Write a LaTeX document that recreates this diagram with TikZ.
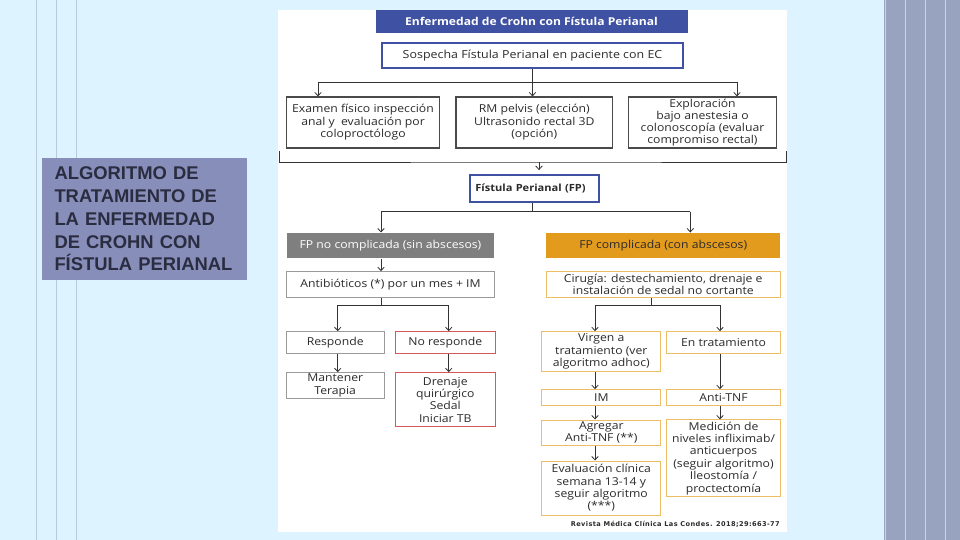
\documentclass[tikz,border=0pt]{standalone}
\usepackage{fontspec}
\setmainfont[FakeStretch=1.12]{Open Sans}
\newfontfamily\labelfont{Liberation Sans}
\newfontfamily\citefont[LetterSpace=6]{DejaVu Sans}
\usetikzlibrary{arrows.meta}
\definecolor{bgblue}{HTML}{DDF3FF}
\definecolor{thinline}{HTML}{B9C9DD}
\definecolor{stripe}{HTML}{98A3BF}
\definecolor{stripelight}{HTML}{C9D3EA}
\definecolor{labelfill}{HTML}{888EBA}
\definecolor{labeltext}{HTML}{2A2C40}
\definecolor{titleblue}{HTML}{3F51A2}
\definecolor{txtgray}{HTML}{2B2B2B}
\definecolor{lngray}{HTML}{333333}
\definecolor{topgray}{HTML}{4A4A4A}
\definecolor{softgray}{HTML}{9A9A9A}
\definecolor{fillgray}{HTML}{7F7F80}
\definecolor{fillorange}{HTML}{E39B1E}
\definecolor{lineorange}{HTML}{EDBD66}
\definecolor{linered}{HTML}{D2585E}
\tikzset{
	flowbox/.style={draw=#1, fill=white, line width=1pt, inner sep=0pt, align=center, text=txtgray, font=\fontsize{10.9}{12.4}\selectfont},
	conn/.style={line width=0.8pt, draw=lngray},
	arr/.style={conn, -{Straight Barb[length=3.5pt,width=6.5pt]}},
}

\begin{document}
\begin{tikzpicture}[x=1pt, y=-1pt]
	%%%%% START %%%%%
	\useasboundingbox (0,0) rectangle (960,540);
	\fill[bgblue] (0,0) rectangle (960,540);
	\foreach \x in {36,56,76} \draw[line width=0.8pt, thinline] (\x,0) -- (\x,540);
	\fill[stripe] (884,0) rectangle (960,540);
	\foreach \x in {885,905,925,945} \draw[line width=1pt, stripelight] (\x,0) -- (\x,540);
	
	% left label
	\node[fill=labelfill, text=labeltext, minimum width=205pt, minimum height=122pt, text width=180pt, inner xsep=12.5pt, align=left,
		font=\labelfont\bfseries\fontsize{18.4}{22.7}\selectfont] (label) at (144.5,219)
		{ALGORITMO DE\\TRATAMIENTO DE\\LA ENFERMEDAD\\DE CROHN CON\\FÍSTULA PERIANAL};
	
	% panel
	\fill[white] (278,10) rectangle (787,532);
	
	\node[fill=titleblue, text=white, minimum width=312pt, minimum height=23pt, inner sep=0pt,
		font=\bfseries\fontsize{10.8}{12}\selectfont] (title) at (531.5,21.4) {Enfermedad de Crohn con Fístula Perianal};
	\node[flowbox=titleblue, line width=1.8pt, minimum width=301pt, minimum height=25pt, font=\fontsize{11.1}{13}\selectfont] (sosp) at (532.5,55.5) {Sospecha Fístula Perianal en paciente con EC};
	
	\node[flowbox=topgray, line width=1.2pt, minimum width=152.6pt, minimum height=51pt] (exam) at (363,122.5) {Examen físico inspección\\anal y\ \ evaluación por\\coloproctólogo};
	\node[flowbox=topgray, line width=1.2pt, minimum width=156.7pt, minimum height=51pt] (rm) at (534.3,122.5) {RM pelvis (elección)\\Ultrasonido rectal 3D\\(opción)};
	\node[flowbox=topgray, line width=1.2pt, minimum width=148.4pt, minimum height=51pt, font=\fontsize{10.9}{11.8}\selectfont] (expl) at (702.5,122.5) {Exploración\\bajo anestesia o\\colonoscopía (evaluar\\compromiso rectal)};
	
	\node[flowbox=titleblue, line width=1.8pt, minimum width=129pt, minimum height=26.7pt, inner xsep=5pt, text width=119pt, align=left,
		font=\bfseries\fontsize{9.9}{12}\selectfont] (fp) at (534.8,188.3) {Fístula Perianal (FP)};
	
	\node[fill=fillgray, text=white, minimum width=207.6pt, minimum height=25.6pt, inner sep=0pt, font=\fontsize{10.9}{12}\selectfont] (nocomp) at (390.5,245.5) {FP no complicada (sin abscesos)};
	\node[fill=fillorange, text=txtgray, minimum width=234.3pt, minimum height=25.6pt, inner sep=0pt, font=\fontsize{10.9}{12}\selectfont] (comp) at (663.2,245.5) {FP complicada (con abscesos)};
	
	\node[flowbox=softgray, minimum width=207.6pt, minimum height=26pt] (anti) at (390.5,284.7) {Antibióticos (*) por un mes + IM};
	\node[flowbox=lineorange, minimum width=234.3pt, minimum height=26pt, font=\fontsize{10.9}{11.7}\selectfont] (ciru) at (663.2,284.7) {Cirugía: destechamiento, drenaje e\\instalación de sedal no cortante};
	
	\node[flowbox=softgray, minimum width=98.3pt, minimum height=21.6pt] (resp) at (335.2,342.5) {Responde};
	\node[flowbox=linered, minimum width=100pt, minimum height=21.6pt] (nresp) at (445.3,342.5) {No responde};
	\node[flowbox=softgray, minimum width=98.3pt, minimum height=25.6pt] (mant) at (335.2,385.5) {Mantener\\Terapia};
	\node[flowbox=linered, minimum width=100pt, minimum height=54pt] (dren) at (445.3,399.7) {Drenaje\\quirúrgico\\Sedal\\Iniciar TB};
	
	\node[flowbox=lineorange, minimum width=119.3pt, minimum height=40pt] (virg) at (601.3,351.7) {Virgen a\\tratamiento (ver\\algoritmo adhoc)};
	\node[flowbox=lineorange, minimum width=113.6pt, minimum height=21.6pt] (entr) at (723.5,342.5) {En tratamiento};
	\node[flowbox=lineorange, minimum width=119.3pt, minimum height=15.7pt] (im) at (601.3,397.5) {IM};
	\node[flowbox=lineorange, minimum width=113.6pt, minimum height=15.7pt] (antitnf) at (723.5,397.5) {Anti-TNF};
	\node[flowbox=lineorange, minimum width=119.3pt, minimum height=25pt] (agre) at (601.3,432.5) {Agregar\\Anti-TNF (**)};
	\node[flowbox=lineorange, minimum width=119.3pt, minimum height=54pt] (eval) at (601.3,488) {Evaluación clínica\\semana 13-14 y\\seguir algoritmo\\(***)};
	\node[flowbox=lineorange, minimum width=113.6pt, minimum height=76.7pt] (medi) at (723.5,458.3) {Medición de\\niveles infliximab/\\anticuerpos\\(seguir algoritmo)\\Ileostomía /\\proctectomía};
	
	\node[anchor=east, inner sep=0pt, text=txtgray, font=\citefont\bfseries\fontsize{6.6}{8}\selectfont] (cite) at (780,524) {Revista Médica Clínica Las Condes. 2018;29:663-77};
	
	% connectors, top
	\coordinate (t0) at (532.5,82);
	\coordinate (tl) at (318,82);
	\coordinate (tr) at (737,82);
	\draw[conn] (sosp.south) -- (t0);
	\draw[conn] (tl) -- (tr);
	\draw[arr] (tl) -- (tl |- exam.north);
	\draw[arr] (t0) -- (t0 |- rm.north);
	\draw[arr] (tr) -- (tr |- expl.north);
	
	% bracket
	\coordinate (bl) at (279,151);
	\coordinate (br) at (786,151);
	\coordinate (bc) at (539,162);
	\draw[conn] (bl) |- (bc) -| (br);
	\draw[arr, shorten >=4pt] (bc) -- (bc |- fp.north);
	
	% fistula split
	\coordinate (f0) at (532.7,211.7);
	\coordinate (fl) at (381,211.7);
	\coordinate (fr) at (690.3,211.7);
	\draw[conn] (fp.south -| f0) -- (f0);
	\draw[conn] (fl) -- (fr);
	\draw[arr] (fl) -- (fl |- nocomp.north);
	\draw[arr] (fr) -- (fr |- comp.north);
	\draw[arr] (nocomp.south -| fl) -- (anti.north -| fl);
	
	% left branch
	\coordinate (a0) at (381,305);
	\coordinate (al) at (337.7,305);
	\coordinate (ar) at (448.7,305);
	\draw[conn] (anti.south -| a0) -- (a0);
	\draw[conn] (al) -- (ar);
	\draw[arr] (al) -- (al |- resp.north);
	\draw[arr] (ar) -- (ar |- nresp.north);
	\draw[arr] (resp.south -| al) -- (mant.north -| al);
	\draw[arr] (nresp.south -| ar) -- (dren.north -| ar);
	
	% right branch
	\coordinate (c0) at (651.7,305);
	\coordinate (cl) at (595,305);
	\coordinate (cr) at (720,305);
	\draw[conn] (ciru.south -| c0) -- (c0);
	\draw[conn] (cl) -- (cr);
	\draw[arr] (cl) -- (cl |- virg.north);
	\draw[arr] (cr) -- (cr |- entr.north);
	\draw[arr] (virg.south -| cl) -- (im.north -| cl);
	\draw[arr] (im.south -| cl) -- (agre.north -| cl);
	\draw[arr] (agre.south -| cl) -- (eval.north -| cl);
	\draw[arr] (entr.south -| cr) -- (antitnf.north -| cr);
	\draw[arr] (antitnf.south -| cr) -- (medi.north -| cr);
	%%%%% END %%%%%
\end{tikzpicture}
\end{document}
